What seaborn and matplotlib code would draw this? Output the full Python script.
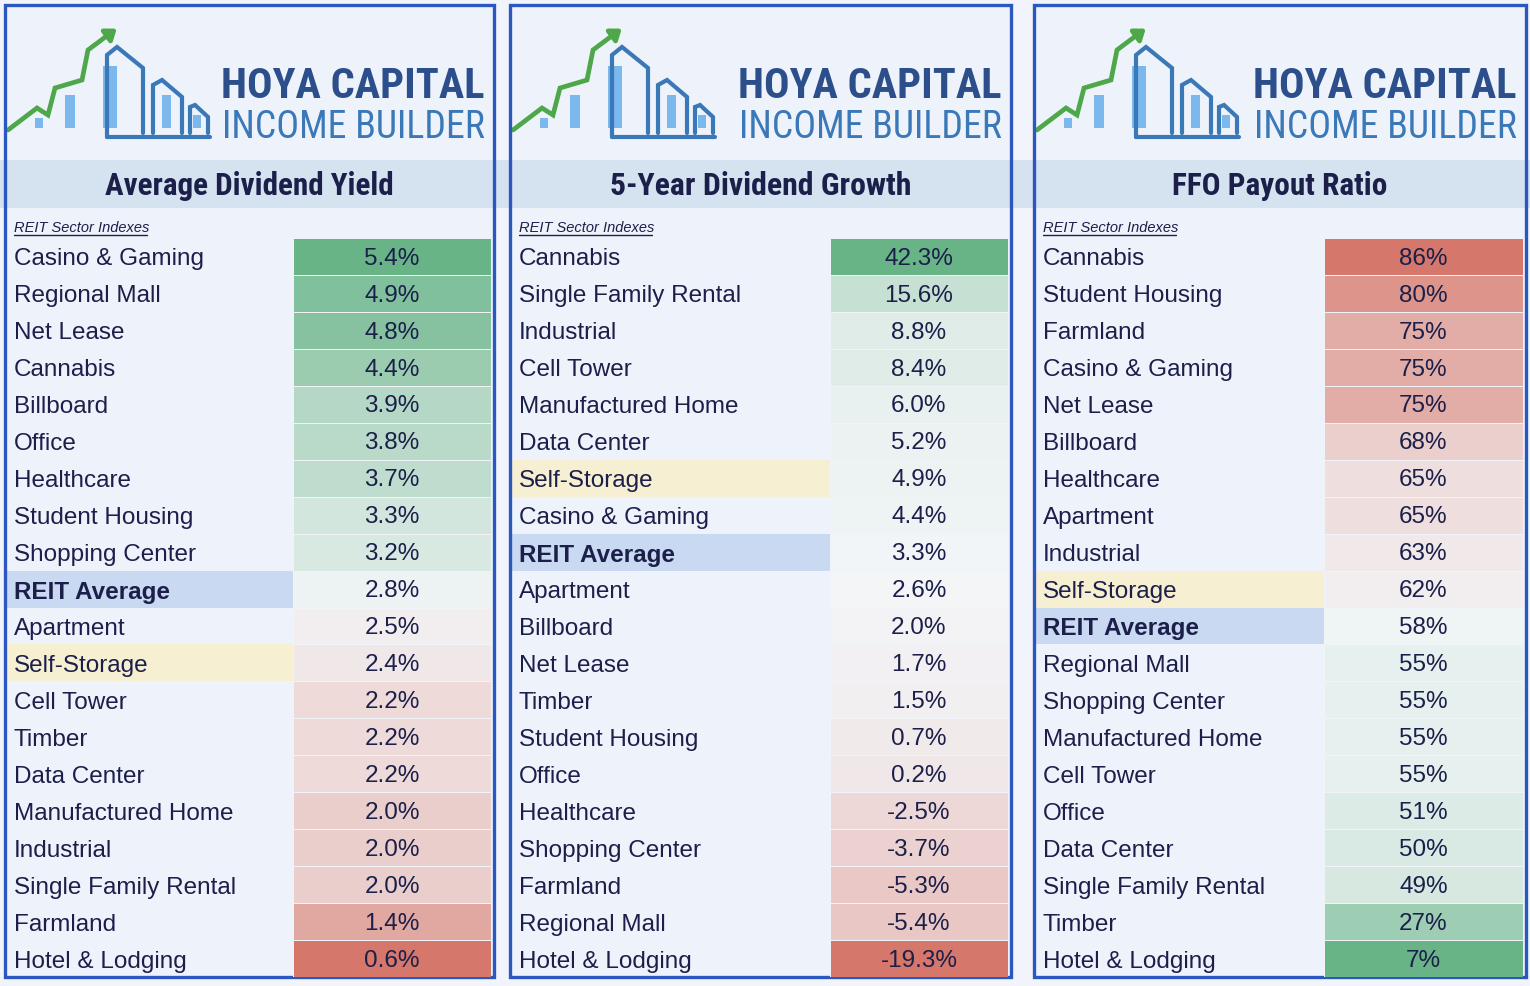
#!/usr/bin/env python3
# coding: utf-8

import numpy as np
import pandas as pd
import matplotlib
matplotlib.use("Agg")
import matplotlib.pyplot as plt
import matplotlib.colors as mcolors
from matplotlib.patches import Rectangle
import seaborn as sns

yield_sectors = ["Casino & Gaming", "Regional Mall", "Net Lease", "Cannabis", "Billboard", "Office",
                 "Healthcare", "Student Housing", "Shopping Center", "REIT Average", "Apartment",
                 "Self-Storage", "Cell Tower", "Timber", "Data Center", "Manufactured Home",
                 "Industrial", "Single Family Rental", "Farmland", "Hotel & Lodging"]
yield_values = [5.4, 4.9, 4.8, 4.4, 3.9, 3.8, 3.7, 3.3, 3.2, 2.8, 2.5, 2.4, 2.2, 2.2, 2.2,
                2.0, 2.0, 2.0, 1.4, 0.6]

growth_sectors = ["Cannabis", "Single Family Rental", "Industrial", "Cell Tower", "Manufactured Home",
                  "Data Center", "Self-Storage", "Casino & Gaming", "REIT Average", "Apartment",
                  "Billboard", "Net Lease", "Timber", "Student Housing", "Office", "Healthcare",
                  "Shopping Center", "Farmland", "Regional Mall", "Hotel & Lodging"]
growth_values = [42.3, 15.6, 8.8, 8.4, 6.0, 5.2, 4.9, 4.4, 3.3, 2.6, 2.0, 1.7, 1.5, 0.7, 0.2,
                 -2.5, -3.7, -5.3, -5.4, -19.3]

payout_sectors = ["Cannabis", "Student Housing", "Farmland", "Casino & Gaming", "Net Lease",
                  "Billboard", "Healthcare", "Apartment", "Industrial", "Self-Storage",
                  "REIT Average", "Regional Mall", "Shopping Center", "Manufactured Home",
                  "Cell Tower", "Office", "Data Center", "Single Family Rental", "Timber",
                  "Hotel & Lodging"]
payout_values = [86, 80, 75, 75, 75, 68, 65, 65, 63, 62, 58, 55, 55, 55, 55, 51, 50, 49, 27, 7]

titles = ["Average Dividend Yield", "5-Year Dividend Growth", "FFO Payout Ratio"]
title_widths = [290, 302, 216]   # px width of each title in the reference

# figure in pixel units
W, H = 1530, 986
BG = "#f1f5fb"
PANEL_BG = "#eef3fb"
BAND = "#d5e2f0"
BORDER = "#2b58c0"
NAVY = "#1b1f4a"
GREEN_ARROW = "#4ea84a"
LOGO_DARK = "#2c4f8c"
LOGO_MID = "#3a78b8"
LOGO_LIGHT = "#7ab8ee"

ROW_TOP, ROW_BOT = 238, 977

sns.set_style("white")
plt.rcParams["font.family"] = ["Liberation Sans", "DejaVu Sans"]
NARROW = ["Roboto Condensed", "Liberation Sans Narrow", "Roboto", "Liberation Sans", "DejaVu Sans"]

good_bad = mcolors.LinearSegmentedColormap.from_list(
    "rg", ["#d5776a", "#f4f6f9", "#68b487"])

panels = [
    dict(left=5, right=494, val_left=293, sectors=yield_sectors, values=yield_values,
         fmt="{:.1f}%", center=2.65, cmap=good_bad),
    dict(left=510, right=1011, val_left=830, sectors=growth_sectors, values=growth_values,
         fmt="{:.1f}%", center=2.8, cmap=good_bad),
    dict(left=1034, right=1526, val_left=1324, sectors=payout_sectors, values=payout_values,
         fmt="{:.0f}%", center=60, cmap=good_bad.reversed()),
]

fig = plt.figure(figsize=(W / 100, H / 100), dpi=100, facecolor=BG)
ax = fig.add_axes([0, 0, 1, 1])
ax.set_xlim(0, W)
ax.set_ylim(H, 0)
ax.axis("off")
renderer = fig.canvas.get_renderer()


def fit_width(t, width, max_size):
    # scale the font so the text spans the same width as in the reference
    w = t.get_window_extent(renderer=renderer).width
    t.set_fontsize(min(max_size, t.get_fontsize() * width / w))


def draw_logo(ax, left, right):
    dx = left - 5
    arrow = [(8, 130), (37, 108), (48, 115), (55, 88), (82, 80), (88, 50), (108, 35)]
    ax.plot([p[0] + dx for p in arrow], [p[1] for p in arrow], color=GREEN_ARROW, lw=3.4,
            solid_joinstyle="miter", zorder=3)
    ax.annotate("", xy=(119 + dx, 27), xytext=(104 + dx, 38),
                arrowprops=dict(arrowstyle="-|>,head_length=0.6,head_width=0.45",
                                color=GREEN_ARROW, lw=3.4), zorder=3)
    # light blue bars
    for bx0, bx1, by0 in [(35, 43, 118), (65, 75, 95), (103, 117, 66), (162, 171, 95), (193, 201, 115)]:
        ax.add_patch(Rectangle((bx0 + dx, by0), bx1 - bx0, 128 - by0, color=LOGO_LIGHT, lw=0, zorder=2))
    # building outlines
    shapes = [
        [(107, 137), (107, 55), (117, 47), (143, 68), (143, 133)],
        [(153, 133), (153, 85), (162, 80), (182, 97), (182, 133)],
        [(190, 133), (190, 107), (195, 105), (208, 117), (208, 133)],
        [(107, 137), (210, 137)],
    ]
    for s in shapes:
        ax.plot([p[0] + dx for p in s], [p[1] for p in s], color=LOGO_MID, lw=3.0,
                solid_joinstyle="miter", zorder=3)
    t1 = ax.text(right - 9, 98, "HOYA CAPITAL", ha="right", va="baseline", fontsize=30,
                 fontweight="bold", family=NARROW, fontstretch="condensed", color=LOGO_DARK, zorder=3)
    t2 = ax.text(right - 9, 138, "INCOME BUILDER", ha="right", va="baseline", fontsize=26,
                 family=NARROW, fontstretch="condensed", color=LOGO_MID, zorder=3)
    fit_width(t1, 263, 60)
    fit_width(t2, 263, 28)


# panel backgrounds
for p in panels:
    ax.add_patch(Rectangle((p["left"], 5), p["right"] - p["left"], 972, facecolor=PANEL_BG,
                           edgecolor="none", zorder=0))
# title band runs across the whole width
ax.add_patch(Rectangle((0, 160), W, 48, facecolor=BAND, edgecolor="none", zorder=1))

n_rows = len(yield_sectors)
row_h = (ROW_BOT - ROW_TOP) / n_rows

for i, p in enumerate(panels):
    draw_logo(ax, p["left"], p["right"])
    cx = (p["left"] + p["right"]) / 2
    tt = ax.text(cx, 186, titles[i], ha="center", va="center", fontsize=23, fontweight="bold",
                 family=NARROW, fontstretch="condensed", color=NAVY, zorder=3)
    fit_width(tt, title_widths[i], 26)
    ax.text(p["left"] + 9, 232, "REIT Sector Indexes", ha="left", va="baseline", fontsize=10.5,
            style="italic", color=NAVY, zorder=3)
    ax.plot([p["left"] + 9, p["left"] + 142], [235, 235], color=NAVY, lw=1.0, zorder=3)

    for j, name in enumerate(p["sectors"]):
        y0 = ROW_TOP + j * row_h
        if name == "REIT Average":
            ax.add_patch(Rectangle((p["left"] + 2, y0), p["val_left"] - p["left"] - 2, row_h,
                                   facecolor="#c9d9f1", edgecolor="none", zorder=1))
        elif name == "Self-Storage":
            ax.add_patch(Rectangle((p["left"] + 2, y0), p["val_left"] - p["left"] - 2, row_h,
                                   facecolor="#f7efd2", edgecolor="none", zorder=1))
        ax.text(p["left"] + 9, y0 + row_h / 2 + 3, name, ha="left", va="center", fontsize=17.5,
                fontweight="bold" if name == "REIT Average" else "normal",
                color=NAVY, zorder=3)

    # border
    ax.add_patch(Rectangle((p["left"], 5), p["right"] - p["left"], 972, facecolor="none",
                           edgecolor=BORDER, lw=2.4, zorder=5))

    # value column as a one-column heatmap
    vals = p["values"]
    df = pd.DataFrame({"value": vals}, index=p["sectors"])
    annot = np.array([[p["fmt"].format(v)] for v in vals])
    hax = fig.add_axes([p["val_left"] / W, 1 - ROW_BOT / H,
                        (p["right"] - 3 - p["val_left"]) / W, (ROW_BOT - ROW_TOP) / H])
    norm = mcolors.TwoSlopeNorm(vcenter=p["center"], vmin=min(vals), vmax=max(vals))
    sns.heatmap(df, ax=hax, cmap=p["cmap"], norm=norm, annot=annot, fmt="", cbar=False,
                xticklabels=False, yticklabels=False, linewidths=0.6, linecolor="#f0f3f8",
                annot_kws=dict(color=NAVY, fontsize=17.5))
    for t in hax.texts:
        x, y = t.get_position()
        t.set_position((x, y + 0.06))
    hax.set_xlabel("")
    hax.set_ylabel("")

fig.savefig("out.png", dpi=100, facecolor=BG)
